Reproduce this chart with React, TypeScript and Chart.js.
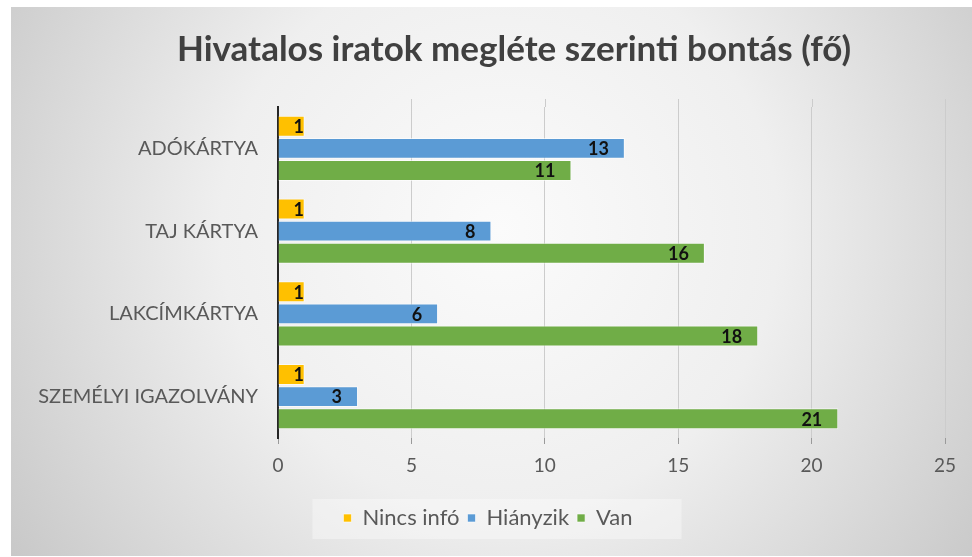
import React, { useEffect, useRef } from "react";
import { Chart, registerables } from "chart.js";

Chart.register(...registerables);

const categories = ["ADÓKÁRTYA", "TAJ KÁRTYA", "LAKCÍMKÁRTYA", "SZEMÉLYI IGAZOLVÁNY"];
const seriesNames = ["Nincs infó", "Hiányzik", "Van"];
const nincsInfo = [1, 1, 1, 1];
const hianyzik = [13, 8, 6, 3];
const van = [11, 16, 18, 21];
const xMin = 0;
const xMax = 25;
const xStep = 5;
const titleText = "Hivatalos iratok megléte szerinti bontás (fő)";

const FONT = "Lato, 'Open Sans', sans-serif";
const W = 972;
const H = 557;

const backgroundPlugin = {
  id: "bgPanel",
  afterLayout(chart: any) {
    const lg = chart.legend;
    if (lg) {
      lg.left += 10;
      lg.right += 10;
    }
  },
  beforeDraw(chart: any) {
    const ctx = chart.ctx;
    ctx.save();
    ctx.fillStyle = "#ffffff";
    ctx.fillRect(0, 0, chart.width, chart.height);
    const x0 = 11, y0 = 7, x1 = chart.width, y1 = chart.height - 1;
    const cx = 500, cy = 230;
    const g = ctx.createRadialGradient(cx, cy, 0, cx, cy, 620);
    g.addColorStop(0, "#fbfbfb");
    g.addColorStop(0.45, "#efefef");
    g.addColorStop(1, "#c4c4c4");
    ctx.fillStyle = g;
    ctx.fillRect(x0, y0, x1 - x0, y1 - y0);
    const lg = chart.legend;
    if (lg && lg.legendHitBoxes && lg.legendHitBoxes.length) {
      const boxes = lg.legendHitBoxes;
      let l = Infinity, r = -Infinity, t = Infinity, b = -Infinity;
      boxes.forEach((hb: any) => {
        l = Math.min(l, hb.left);
        r = Math.max(r, hb.left + hb.width);
        t = Math.min(t, hb.top);
        b = Math.max(b, hb.top + hb.height);
      });
      ctx.fillStyle = "rgba(255,255,255,0.35)";
      ctx.fillRect(l - 31, t - 8, r - l + 80, b - t + 18);
    }
    ctx.font = `bold 35px ${FONT}`;
    ctx.fillStyle = "#404040";
    ctx.textAlign = "center";
    ctx.textBaseline = "middle";
    ctx.fillText(titleText, 514, 50);
    ctx.restore();
  },
};

const gridExtendPlugin = {
  id: "gridExtend",
  beforeDatasetsDraw(chart: any) {
    const ctx = chart.ctx;
    const xs = chart.scales.x;
    const top = chart.chartArea.top;
    ctx.save();
    ctx.strokeStyle = "#cccccc";
    ctx.lineWidth = 1;
    xs.ticks.forEach((t: any) => {
      if (t.value === xMin) return;
      const px = Math.round(xs.getPixelForValue(t.value)) + 0.5;
      ctx.beginPath();
      ctx.moveTo(px, top - 8);
      ctx.lineTo(px, top);
      ctx.stroke();
    });
    ctx.restore();
  },
};

const dataLabelPlugin = {
  id: "barLabels",
  afterDatasetsDraw(chart: any) {
    const ctx = chart.ctx;
    ctx.save();
    ctx.font = `bold 18px ${FONT}`;
    ctx.fillStyle = "#111111";
    ctx.textBaseline = "middle";
    ctx.textAlign = "left";
    chart.data.datasets.forEach((ds: any, di: number) => {
      const meta = chart.getDatasetMeta(di);
      meta.data.forEach((bar: any, i: number) => {
        const txt = String(ds.data[i]);
        const w = ctx.measureText(txt).width;
        const x = Math.max(bar.x - 16 - w, bar.base + 15);
        ctx.fillText(txt, x, bar.y + 1);
      });
    });
    ctx.restore();
  },
};

export default function App() {
  const ref = useRef<HTMLCanvasElement | null>(null);

  useEffect(() => {
    if (!ref.current) return;
    const mk = (label: string, data: number[], color: string) => ({
      label,
      data,
      backgroundColor: color,
      borderColor: "rgba(255,255,255,0.6)",
      borderWidth: 1,
      barPercentage: 0.95,
      categoryPercentage: 0.8,
    });
    const chart = new Chart(ref.current, {
      type: "bar",
      data: {
        labels: categories,
        datasets: [
          mk(seriesNames[0], nincsInfo, "#FFC000"),
          mk(seriesNames[1], hianyzik, "#5B9BD5"),
          mk(seriesNames[2], van, "#70AD47"),
        ],
      },
      options: {
        indexAxis: "y",
        responsive: false,
        animation: false,
        devicePixelRatio: 1,
        layout: { padding: { left: 11, right: 27, top: 107, bottom: 18 } },
        scales: {
          x: {
            min: xMin,
            max: xMax,
            ticks: {
              stepSize: xStep,
              color: "#595959",
              font: { family: FONT, size: 19 },
              padding: 10,
            },
            grid: {
              color: "#cccccc",
              lineWidth: 1,
              drawTicks: true,
              tickLength: 6,
              tickColor: "#9a9a9a",
            },
            border: { display: false },
            afterFit(scale: any) {
              scale.height = 61;
            },
          },
          y: {
            ticks: {
              color: "#595959",
              font: { family: FONT, size: 20 },
              padding: 20,
            },
            grid: { display: false, drawTicks: false },
            border: { display: true, color: "#262626", width: 2 },
            afterFit(scale: any) {
              scale.width = 267;
            },
          },
        },
        plugins: {
          title: { display: false },
          legend: {
            display: true,
            position: "bottom",
            labels: {
              boxWidth: 8,
              boxHeight: 8,
              color: "#595959",
              font: { family: FONT, size: 22 },
              padding: 8,
            },
          },
          tooltip: { enabled: false },
        },
      },
      plugins: [backgroundPlugin, gridExtendPlugin, dataLabelPlugin],
    } as any);
    return () => chart.destroy();
  }, []);

  return (
    <div style={{ position: "fixed", left: 0, top: 0, width: W, height: H }}>
      <canvas ref={ref} width={W} height={H} style={{ display: "block", width: W, height: H }} />
    </div>
  );
}
